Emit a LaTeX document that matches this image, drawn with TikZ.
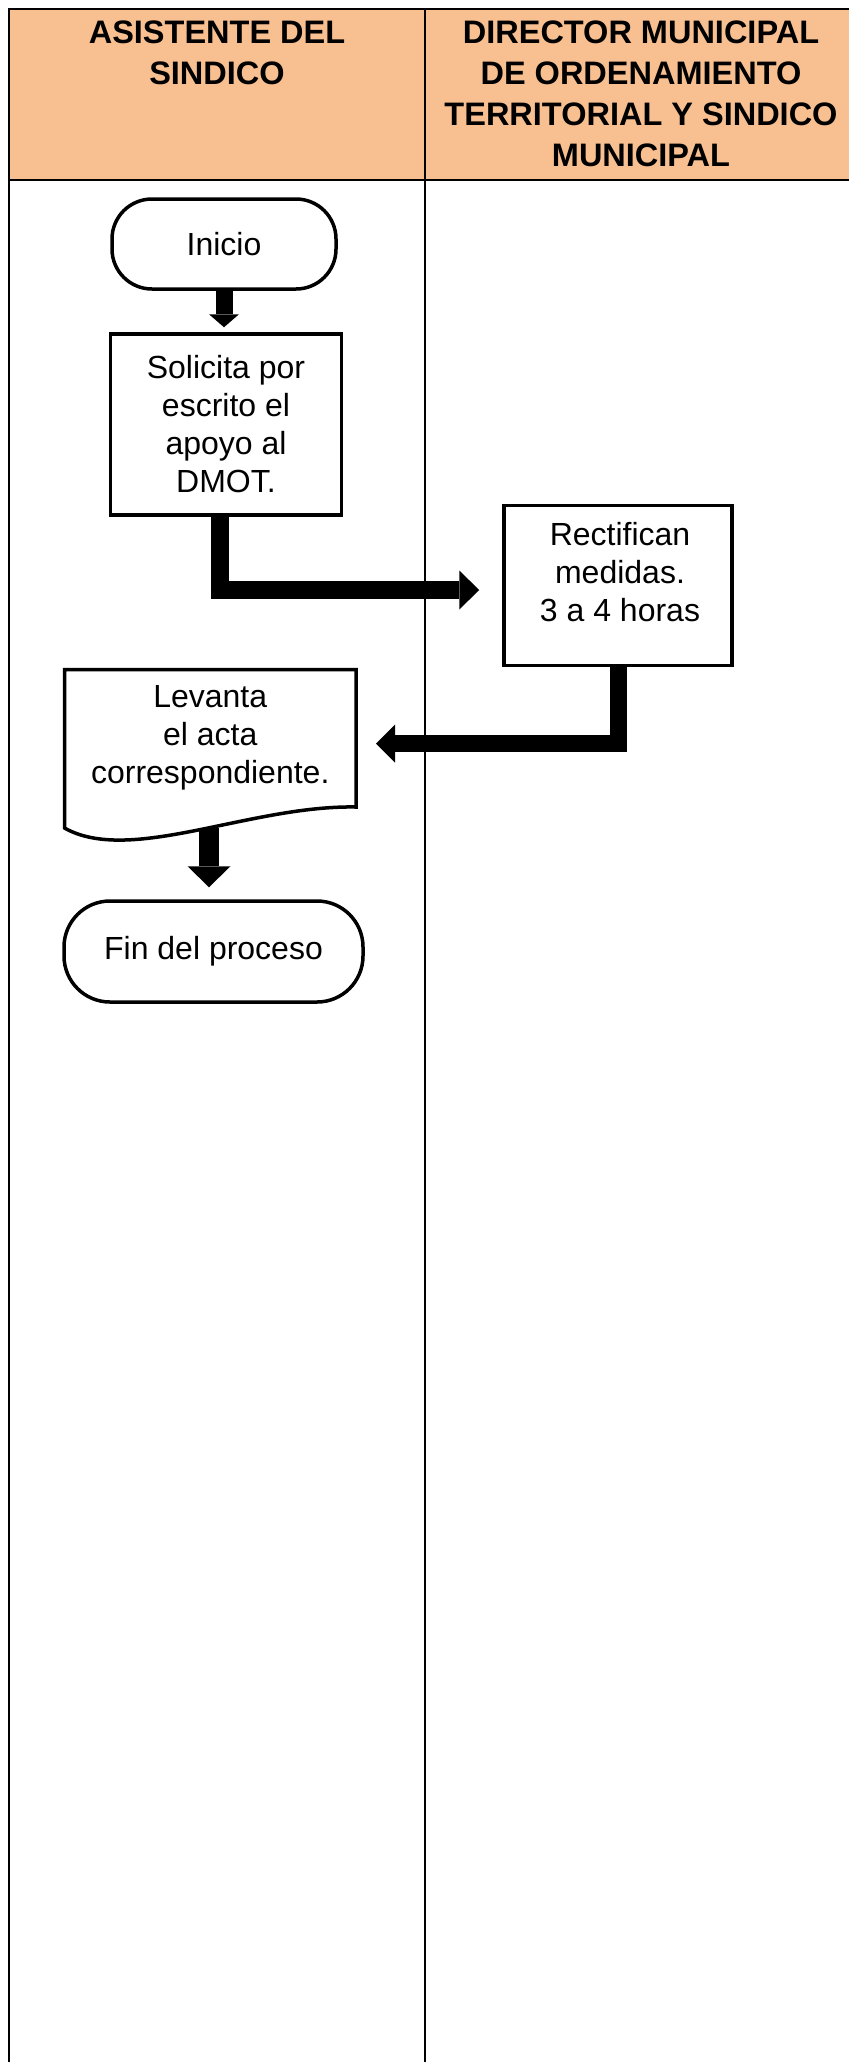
\documentclass[tikz,border=0pt]{standalone}
\usepackage{fontspec}
\setmainfont{Liberation Sans}
\usetikzlibrary{arrows.meta}
\definecolor{hdr}{RGB}{248,192,144}
\begin{document}
\begin{tikzpicture}[x=1pt,y=-1pt,
  tbl/.style={line width=2pt, line join=miter},
  hdrtxt/.style={font=\bfseries\fontsize{32.5}{41}\selectfont, align=center, inner sep=0pt},
  txt/.style={font=\fontsize{32}{38}\selectfont, align=center, inner sep=0pt},
  procbox/.style={draw, line width=3.5pt, rectangle, inner sep=0pt},
  shapeline/.style={line width=3.5pt, line join=miter},
  barrow/.style n args={3}{line width=#1, line join=miter, -{Triangle[width=#2,length=#3,line width=0pt]}}]
\useasboundingbox (0,0) rectangle (849,2062);
% table
\fill[hdr] (9,9) rectangle (849,180);
\draw[tbl] (849,9) -- (9,9) -- (9,2062);
\draw[tbl] (425,9) -- (425,2062);
\draw[tbl] (9,180) -- (849,180);
% headers
\node[hdrtxt] (h1) at (217,52.5) {ASISTENTE DEL\\SINDICO};
\node[hdrtxt] (h2) at (641,93.6) {DIRECTOR MUNICIPAL\\DE ORDENAMIENTO\\TERRITORIAL Y SINDICO\\MUNICIPAL};
% nodes
\node[procbox, txt, rounded corners=40pt, minimum width=224pt, minimum height=90pt] (ini) at (224,244) {Inicio};
\node[procbox, txt, minimum width=231pt, minimum height=181pt] (sol) at (226,424.5) {Solicita por\\escrito el\\apoyo al\\DMOT.};
\node[procbox, minimum width=228pt, minimum height=160pt] (rect) at (618,585.5) {};
\node[txt] (rectt) at (620,572) {Rectifican\\medidas.\\3 a 4 horas};
\node[txt, outer sep=0pt, minimum width=291.5pt, minimum height=137.5pt] (lev) at (210.25,738.25) {Levanta\\el acta\\correspondiente.};
\draw[shapeline] (lev.south east) -- (lev.north east) -- (lev.north west) -- ([yshift=-21pt]lev.south west)
  .. controls (130,865) and (250,805) .. (lev.south east) -- cycle;
\node[procbox, txt, rounded corners=46pt, minimum width=299pt, minimum height=101pt] (fin) at (213.5,951.5) {Fin del proceso};
\coordinate (levb) at (209,828);
% connectors
\draw[barrow={17pt}{30pt}{13pt}, shorten >=5pt] (ini.south) -- (ini.south |- sol.north);
\draw[barrow={18pt}{39pt}{20pt}] ([xshift=-6.5pt]sol.south) |- ([xshift=-23pt,yshift=-4.5pt]rect.west);
\draw[barrow={17pt}{38pt}{19pt}] (rect.south) |- ([xshift=20pt,yshift=-5.25pt]lev.east);
\draw[barrow={20pt}{43pt}{21pt}, shorten >=12pt] (levb) -- (levb |- fin.north);
\end{tikzpicture}
\end{document}
